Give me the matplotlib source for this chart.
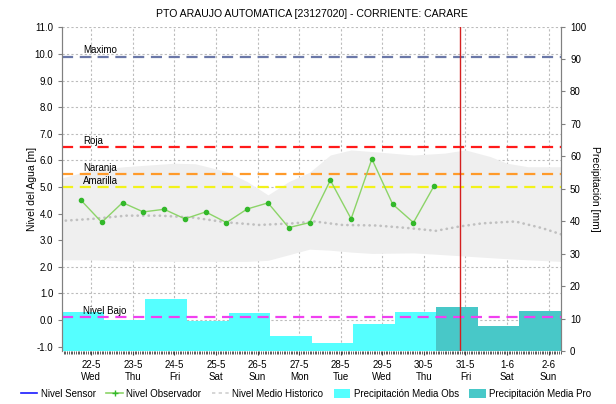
import numpy as np
import matplotlib
matplotlib.use("Agg")
import matplotlib.pyplot as plt
import matplotlib.transforms as mtransforms
from matplotlib.lines import Line2D
from matplotlib.patches import Patch

plt.rcParams['font.family'] = ['Liberation Sans', 'DejaVu Sans']

# Day ticks (x = 0 is 22-5 at 00:00, one unit per day)
day_labels = ["22-5", "23-5", "24-5", "25-5", "26-5", "27-5",
              "28-5", "29-5", "30-5", "31-5", "1-6", "2-6"]
weekdays = ["Wed", "Thu", "Fri", "Sat", "Sun", "Mon",
            "Tue", "Wed", "Thu", "Fri", "Sat", "Sun"]

# Observed level readings, 06:00 and 18:00 (days)
obs_time = [-0.25, 0.25, 0.75, 1.25, 1.75, 2.25, 2.75, 3.25, 3.75,
            4.25, 4.75, 5.25, 5.75, 6.25, 6.75, 7.25, 7.75, 8.25]
obs_level = [4.50, 3.67, 4.41, 4.06, 4.16, 3.80, 4.06, 3.66, 4.17,
             4.40, 3.47, 3.66, 5.25, 3.80, 6.05, 4.35, 3.66, 5.05]

# Historic range (min / max envelope)
hist_time = [-0.7, 0.0, 0.8, 2.0, 2.5, 3.25, 3.75, 4.25, 4.75, 5.25,
             5.75, 6.25, 6.75, 7.75, 8.5, 9.0, 9.6, 10.0, 10.5, 11.3]
hist_max = [5.34, 5.64, 5.76, 5.89, 5.87, 5.58, 5.20, 4.70, 5.20, 5.55,
            6.20, 6.39, 6.33, 6.20, 6.27, 6.39, 6.14, 5.89, 5.76, 5.76]
hist_min = [2.26, 2.26, 2.22, 2.20, 2.20, 2.20, 2.20, 2.24, 2.45, 2.66,
            2.62, 2.55, 2.50, 2.52, 2.45, 2.40, 2.34, 2.30, 2.26, 2.20]

# Historic mean level
mean_time = [-0.75, 0.04, 0.84, 1.64, 2.44, 3.24, 4.04, 4.84, 5.37,
             6.04, 6.85, 7.65, 8.29, 8.85, 9.4, 10.2, 10.85, 11.3]
mean_level = [3.72, 3.80, 3.92, 3.92, 3.85, 3.67, 3.57, 3.63, 3.70,
              3.57, 3.55, 3.45, 3.35, 3.51, 3.63, 3.70, 3.45, 3.22]

# Daily precipitation [mm], observed then forecast
precip_obs = [12.0, 9.6, 16.1, 9.2, 11.7, 4.8, 2.5, 8.4, 12.0]
precip_pro = [13.7, 7.7, 12.4]

# Alert thresholds [m]
thresholds = [("Maximo", 9.9, "#6b78a8"),
              ("Roja", 6.5, "#ff1a1a"),
              ("Naranja", 5.5, "#ff9a2a"),
              ("Amarilla", 5.0, "#f2f21a"),
              ("Nivel Bajo", 0.1, "#f040f0")]

now_time = 8.88

fig = plt.figure(figsize=(6.16, 4.04), dpi=100)
ax = fig.add_axes([0.1011, 0.1304, 0.8096, 0.804])
ax2 = ax.twinx()

x_min, x_max = -0.7, 11.3
ax.set_xlim(x_min, x_max)
ax.set_ylim(-1.18, 11.03)
ax2.set_ylim(0, 100)

# grid
ax.set_axisbelow(True)
ax.grid(True, color="#bcbcbc", linestyle=(0, (2, 2)), linewidth=0.8)

# historic envelope
ax.fill_between(hist_time, hist_min, hist_max, color="#efefef", lw=0, zorder=1)

# precipitation bars, scaled on the right axis
day_start = np.arange(len(precip_obs) + len(precip_pro)) + x_min
n_obs = len(precip_obs)
ax.bar(day_start[:n_obs], precip_obs, width=1.0, align="edge",
       color="#55ffff", lw=0, zorder=1.5, transform=ax2.transData)
ax.bar(day_start[n_obs:], precip_pro, width=1.0, align="edge",
       color="#48c8c8", lw=0, zorder=1.5, transform=ax2.transData)

# historic mean
ax.plot(mean_time, mean_level, color="#c0c0c0", lw=1.9,
        linestyle=(0, (0.1, 2.0)), dash_capstyle="round", zorder=2)

# thresholds
label_tf = mtransforms.blended_transform_factory(ax.transAxes, ax.transData)
for name, level, color in thresholds:
    ax.axhline(level, color=color, lw=1.6, linestyle=(0, (5, 3)), zorder=3)
    ax.text(0.0415, level + 0.04, name, transform=label_tf, fontsize=7,
            va="bottom", ha="left", color="black", zorder=4)

# observer readings
ax.plot(obs_time, obs_level, color="#8cd468", lw=1.0, zorder=5)
ax.plot(obs_time, obs_level, linestyle="none", marker="o", ms=3.0,
        color="#33b82a", zorder=6)

# current time marker
ax.axvline(now_time, color="#d42020", lw=1.0, zorder=7)

# axes styling
ax.set_xticks(range(len(day_labels)))
ax.set_xticklabels([f"{d}\n{w}" for d, w in zip(day_labels, weekdays)], fontsize=7)
ax.set_xticks(np.arange(-16, 272) / 24, minor=True)
ax.tick_params(axis="x", which="major", length=3, color="#404040")
ax.tick_params(axis="x", which="minor", length=2, width=0.6, color="#404040")
ax.set_yticks(np.arange(-1, 12))
ax.set_yticklabels([f"{v:.1f}" for v in np.arange(-1, 12)], fontsize=7)
ax.tick_params(axis="y", length=3, color="#808080")
ax2.set_yticks(np.arange(0, 101, 10))
ax2.set_yticklabels([str(v) for v in range(0, 101, 10)], fontsize=7)
ax2.tick_params(axis="y", length=3, color="#808080")

for a in (ax, ax2):
    a.spines["top"].set_visible(False)
    a.spines["left"].set_color("#808080")
    a.spines["right"].set_color("#808080")
    a.spines["bottom"].set_visible(False)

ax.set_ylabel("Nivel del Agua [m]", fontsize=7.5, labelpad=-2)
ax2.set_ylabel("Precipitación [mm]", fontsize=7.5, rotation=-90, labelpad=10)
ax.set_title("PTO ARAUJO AUTOMATICA [23127020] - CORRIENTE: CARARE",
             fontsize=7.6, pad=7)

handles = [
    Line2D([], [], color="#1a1aff", lw=1.2),
    Line2D([], [], color="#8cd468", lw=1.2, marker="+", ms=4,
           markeredgecolor="#33b82a"),
    Line2D([], [], color="#d0d0d0", lw=1.2, linestyle=(0, (2, 2))),
    Patch(facecolor="#55ffff", lw=0),
    Patch(facecolor="#48c8c8", lw=0),
]
names = ["Nivel Sensor", "Nivel Observador", "Nivel Medio Historico",
         "Precipitación Media Obs", "Precipitación Media Pro"]
fig.legend(handles, names, loc="center", bbox_to_anchor=(0.497, 0.025),
           ncol=5, frameon=False, fontsize=7, handlelength=1.7,
           handleheight=1.0, handletextpad=0.35, columnspacing=1.1)

fig.savefig("out.png", dpi=100)
